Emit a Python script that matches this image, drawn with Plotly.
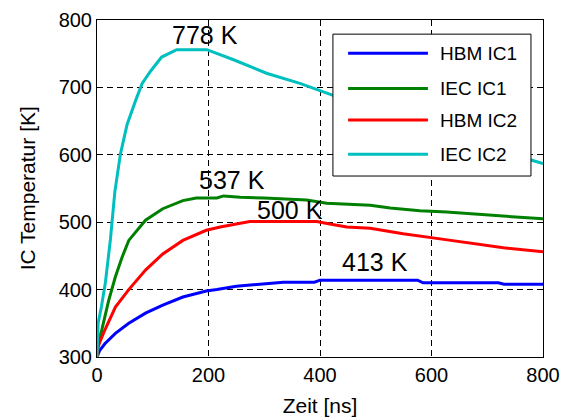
import plotly.graph_objects as go

# ---- data ----
series_names = ["HBM IC1", "IEC IC1", "HBM IC2", "IEC IC2"]
series_colors = ["#0000FF", "#008000", "#FF0000", "#00BFBF"]

t_hbm1 = [0, 5, 14.5, 33, 57, 87, 118, 154, 196, 215, 250, 274, 300, 334, 390, 400, 575, 585, 720, 730, 800]
T_hbm1 = [300, 310, 320, 335, 350, 365, 377, 389, 398, 400, 405, 407, 409, 411, 411, 414, 414, 410, 410, 408, 408]

t_iec1 = [0, 2, 8.5, 21, 33, 45, 57, 75, 87, 118, 154, 178, 215, 227, 240, 257, 300, 376, 412, 450, 490, 526, 579, 627, 681, 735, 780, 800]
T_iec1 = [300, 320, 340, 384, 419, 448, 473, 492, 503, 520, 532, 536, 536, 539, 538, 537, 536, 533, 528, 526, 525, 521, 517, 515, 512, 508, 506, 505]

t_hbm2 = [0, 2, 5, 14, 33, 57, 87, 118, 154, 196, 221, 274, 300, 394, 420, 448, 490, 549, 609, 669, 729, 800]
T_hbm2 = [300, 315, 322, 340, 374, 400, 429, 453, 473, 488, 493, 501, 501, 501, 497, 493, 491, 483, 476, 469, 462, 456]

t_iec2 = [0, 1, 2, 8, 15, 24, 32, 42, 54, 69, 81, 96, 116, 143, 197, 245, 304, 364, 421, 500, 600, 700, 780, 800]
T_iec2 = [300, 340, 350, 375, 410, 474, 545, 601, 645, 680, 706, 724, 745, 756, 756, 741, 721, 706, 689, 668, 640, 612, 592, 587]

label_texts = ["778 K", "537 K", "500 K", "413 K"]
label_t = [194, 242, 346, 498]
label_T = [778, 563, 518, 441]

x_ticks = [0, 200, 400, 600, 800]
y_ticks = [300, 400, 500, 600, 700, 800]

x_title = "Zeit [ns]"
y_title = "IC Temperatur [K]"

FONT = "Liberation Sans, Arial, sans-serif"

fig = go.Figure()
for ts, Ts, name, col in zip([t_hbm1, t_iec1, t_hbm2, t_iec2],
                             [T_hbm1, T_iec1, T_hbm2, T_iec2],
                             series_names, series_colors):
    fig.add_trace(go.Scatter(x=ts, y=Ts, mode="lines", name=name,
                             line=dict(color=col, width=3), showlegend=False))

for txt, xt, yt in zip(label_texts, label_t, label_T):
    fig.add_annotation(x=xt, y=yt, text=txt, showarrow=False,
                       xanchor="center", yanchor="middle",
                       font=dict(family=FONT, size=25, color="black"))

# manual legend (Matlab style)
shapes = [dict(type="rect", xref="paper", yref="paper", x0=0.529, x1=0.973,
               y0=0.537, y1=0.958, fillcolor="white",
               line=dict(color="black", width=1), layer="above")]
legend_y = [0.901, 0.797, 0.703, 0.602]
for name, col, ly in zip(series_names, series_colors, legend_y):
    shapes.append(dict(type="line", xref="paper", yref="paper", x0=0.563, x1=0.742,
                       y0=ly, y1=ly, line=dict(color=col, width=3), layer="above"))
    fig.add_annotation(xref="paper", yref="paper", x=0.765, y=ly, text=name,
                       showarrow=False, xanchor="left", yanchor="middle",
                       font=dict(family=FONT, size=19, color="black"))

# y-axis title placed as rotated text left of the tick labels
fig.add_annotation(xref="paper", yref="paper", x=-0.155, y=0.5, text=y_title,
                   textangle=-90, showarrow=False, xanchor="center", yanchor="middle",
                   font=dict(family=FONT, size=21, color="black"))

axis_common = dict(showline=True, linecolor="black", linewidth=1, mirror=True,
                   showgrid=True, gridcolor="black", gridwidth=1, griddash="6px,4px",
                   zeroline=False, ticks="", tickfont=dict(family=FONT, size=20, color="black"),
                   title_font=dict(family=FONT, size=21, color="black"), automargin=False)

fig.update_xaxes(range=[0, 800], tickvals=x_ticks, title_text=x_title,
                 title_standoff=16, **axis_common)
fig.update_yaxes(range=[300, 800], tickvals=y_ticks, **axis_common)

fig.update_layout(width=570, height=417, margin=dict(l=97, r=27, t=20, b=60),
                  plot_bgcolor="white", paper_bgcolor="white", shapes=shapes,
                  font=dict(family=FONT, color="black"))

fig.write_html("out.html", config={"displayModeBar": False},
               post_script="document.body.style.margin='0';")
